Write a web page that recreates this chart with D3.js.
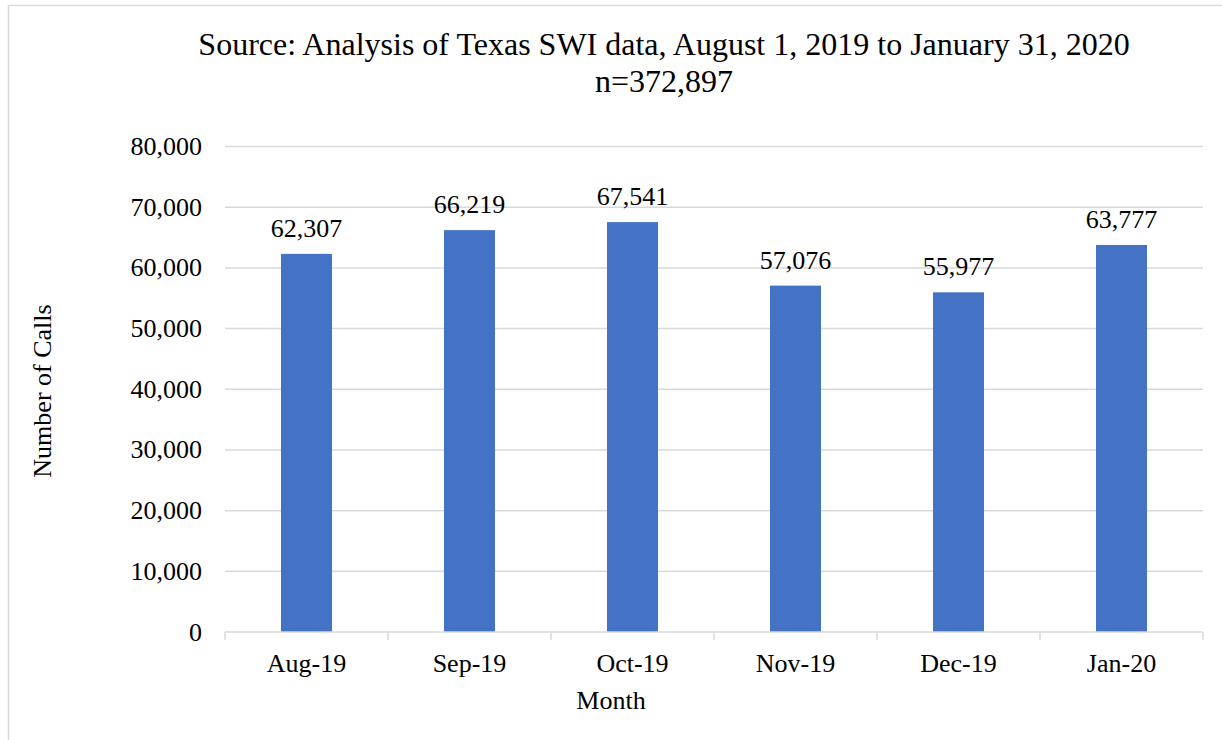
<!DOCTYPE html>
<html>
<head>
<meta charset="utf-8">
<script src="https://cdn.jsdelivr.net/npm/d3@7"></script>
<style>
  body { margin: 0; background: #fff; }
  svg { display: block; font-family: "Liberation Serif", "Times New Roman", serif; }
</style>
</head>
<body>
<svg id="grafica" width="1222" height="740"></svg>
<script>
// values
var months = ["Aug-19", "Sep-19", "Oct-19", "Nov-19", "Dec-19", "Jan-20"];
var calls = [62307, 66219, 67541, 57076, 55977, 63777];
var yTicks = [0, 10000, 20000, 30000, 40000, 50000, 60000, 70000, 80000];
var titleLines = ["Source: Analysis of Texas SWI data, August 1, 2019 to January 31, 2020", "n=372,897"];

var data = months.map((m, i) => ({month: m, value: calls[i]}));

var svg = d3.select("#grafica"),
    margin = {top: 146.5, bottom: 108, left: 225, right: 19},
    width = +svg.attr("width"),
    height = +svg.attr("height");

var fmt = d3.format(",");
var gridColor = "#d9d9d9";

// chart border
svg.append("rect")
    .attr("x", 8.5).attr("y", 5.5)
    .attr("width", width + 10).attr("height", height + 10)
    .attr("fill", "none").attr("stroke", gridColor).attr("stroke-width", 1.5);

var x = d3.scaleBand()
    .domain(months)
    .range([margin.left, width - margin.right])
    .paddingInner(0.687)
    .paddingOuter(0.3435);

var y = d3.scaleLinear()
    .domain([0, 80000])
    .range([height - margin.bottom, margin.top]);

// gridlines
svg.append("g")
    .selectAll("line")
    .data(yTicks.slice(1))
    .enter().append("line")
    .attr("x1", margin.left).attr("x2", width - margin.right)
    .attr("y1", d => y(d)).attr("y2", d => y(d))
    .attr("stroke", gridColor).attr("stroke-width", 1.5);

// y tick labels
svg.append("g")
    .selectAll("text")
    .data(yTicks)
    .enter().append("text")
    .attr("x", 202)
    .attr("y", d => y(d) + 8.5)
    .attr("text-anchor", "end")
    .attr("font-size", 26)
    .attr("fill", "#000")
    .text(d => fmt(d));

// bars
svg.append("g")
    .selectAll("rect")
    .data(data)
    .enter().append("rect")
    .attr("x", d => x(d.month))
    .attr("y", d => y(d.value))
    .attr("width", x.bandwidth())
    .attr("height", d => y(0) - y(d.value))
    .attr("fill", "#4472C4");

// value labels
svg.append("g")
    .selectAll("text")
    .data(data)
    .enter().append("text")
    .attr("x", d => x(d.month) + x.bandwidth() / 2)
    .attr("y", d => y(d.value) - 17)
    .attr("text-anchor", "middle")
    .attr("font-size", 26)
    .attr("fill", "#000")
    .text(d => fmt(d.value));

// x axis: baseline with category boundary ticks
var step = x.step();
var xAxis = svg.append("g");
xAxis.append("line")
    .attr("x1", margin.left).attr("x2", width - margin.right)
    .attr("y1", y(0)).attr("y2", y(0))
    .attr("stroke", gridColor).attr("stroke-width", 1.5);
xAxis.selectAll(".tick")
    .data(d3.range(months.length + 1))
    .enter().append("line")
    .attr("x1", i => margin.left + i * step).attr("x2", i => margin.left + i * step)
    .attr("y1", y(0)).attr("y2", y(0) + 8)
    .attr("stroke", gridColor).attr("stroke-width", 1.5);
xAxis.selectAll("text")
    .data(months)
    .enter().append("text")
    .attr("x", d => x(d) + x.bandwidth() / 2)
    .attr("y", y(0) + 40)
    .attr("text-anchor", "middle")
    .attr("font-size", 26)
    .attr("fill", "#000")
    .text(d => d);

// title
svg.append("g")
    .selectAll("text")
    .data(titleLines)
    .enter().append("text")
    .attr("x", 664)
    .attr("y", (d, i) => 55 + i * 37)
    .attr("text-anchor", "middle")
    .attr("font-size", 32)
    .attr("fill", "#000")
    .text(d => d);

// axis titles
svg.append("text")
    .attr("x", 611)
    .attr("y", 709)
    .attr("text-anchor", "middle")
    .attr("font-size", 26)
    .text("Month");

svg.append("text")
    .attr("transform", "translate(51,391) rotate(-90)")
    .attr("text-anchor", "middle")
    .attr("font-size", 26)
    .text("Number of Calls");
</script>
</body>
</html>
